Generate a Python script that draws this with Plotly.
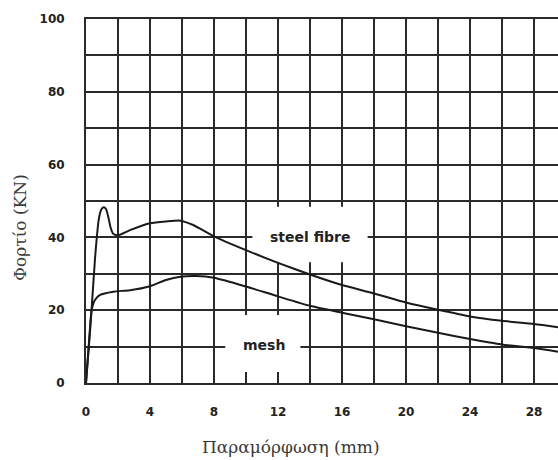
import plotly.graph_objects as go

# Data
steel_x = [0, 0.3, 0.56, 0.8, 0.95, 1.1, 1.25, 1.4, 1.55, 1.7, 2.0, 2.75, 4.0, 5.0, 5.9, 6.7,
           8.0, 10.0, 12.0, 14.0, 16.0, 18.0, 20.0, 22.0, 24.0, 26.0, 28.0, 29.5]
steel_y = [0, 17, 34, 45, 47.6, 48.3, 47.8, 45.5, 42.5, 41.0, 40.6, 42.0, 43.9, 44.4, 44.6, 43.4,
           40.3, 36.5, 33.0, 29.8, 26.9, 24.6, 22.1, 20.1, 18.3, 17.1, 16.2, 15.3]

mesh_x = [0, 0.2, 0.35, 0.56, 0.875, 1.7, 2.75, 4.0, 5.0, 5.9, 6.9, 8.0, 10.0, 12.0, 14.0,
          16.0, 18.0, 20.0, 22.0, 24.0, 26.0, 28.0, 29.5]
mesh_y = [0, 12, 20, 22.8, 24.2, 25.1, 25.5, 26.6, 28.3, 29.2, 29.4, 28.9, 26.5, 23.8, 21.2,
          19.3, 17.5, 15.6, 13.8, 12.1, 10.6, 9.6, 8.6]

x_ticks = [0, 4, 8, 12, 16, 20, 24, 28]
y_ticks = [0, 20, 40, 60, 80, 100]
series_labels = ["steel fibre", "mesh"]
x_title = "Παραμόρφωση (mm)"
y_title = "Φορτίο (KN)"

LINE = "#1a1a1a"
GRID = "#2a2a2a"

fig = go.Figure()
fig.add_trace(go.Scatter(x=steel_x, y=steel_y, mode="lines",
                         line=dict(color=LINE, width=2, shape="spline", smoothing=0.6),
                         showlegend=False, hoverinfo="skip"))
fig.add_trace(go.Scatter(x=mesh_x, y=mesh_y, mode="lines",
                         line=dict(color=LINE, width=2, shape="spline", smoothing=0.6),
                         showlegend=False, hoverinfo="skip"))

# white patches hiding the grid behind the labels (between grid and traces)
fig.add_shape(type="rect", x0=10.4, x1=17.6, y0=33.2, y1=48.4, xref="x", yref="y",
              fillcolor="white", line=dict(width=0), layer="between")
fig.add_shape(type="rect", x0=8.7, x1=13.4, y0=3.0, y1=18.7, xref="x", yref="y",
              fillcolor="white", line=dict(width=0), layer="between")

label_font = dict(family="DejaVu Sans, sans-serif", size=14, color="#222", weight="bold")
fig.add_annotation(x=14.0, y=40, xref="x", yref="y", text=series_labels[0], showarrow=False,
                   font=label_font)
fig.add_annotation(x=11.1, y=10.4, xref="x", yref="y", text=series_labels[1], showarrow=False,
                   font=label_font)

title_font = dict(family="DejaVu Serif, Liberation Serif, serif", size=17, color="#3a3a3a")
fig.add_annotation(x=0.434, y=-0.176, xref="paper", yref="paper", text=x_title,
                   showarrow=False, font=title_font, xanchor="center", yanchor="middle")
fig.add_annotation(x=-0.14, y=0.4286, xref="paper", yref="paper", text=y_title,
                   showarrow=False, font=title_font, textangle=-90,
                   xanchor="center", yanchor="middle")

tick_font = dict(family="DejaVu Sans, sans-serif", size=12, color="#222", weight="bold")

fig.update_xaxes(range=[0, 29.5], tickvals=x_ticks, ticktext=[str(v) for v in x_ticks],
                 showgrid=True, gridcolor=GRID, gridwidth=1.5,
                 minor=dict(dtick=2, tick0=0, showgrid=True, gridcolor=GRID, gridwidth=1.5),
                 showline=True, linecolor=GRID, linewidth=2, mirror=True,
                 zeroline=False, ticks="", tickfont=tick_font, ticklabelstandoff=17)
fig.update_yaxes(range=[0, 100], tickvals=y_ticks, ticktext=[str(v) for v in y_ticks],
                 showgrid=True, gridcolor=GRID, gridwidth=1.5,
                 minor=dict(dtick=10, tick0=0, showgrid=True, gridcolor=GRID, gridwidth=1.5),
                 showline=True, linecolor=GRID, linewidth=2,
                 zeroline=False, ticks="", tickfont=tick_font, ticklabelstandoff=17)

fig.update_layout(width=558, height=460, margin=dict(l=86, r=0, t=19, b=77),
                  plot_bgcolor="white", paper_bgcolor="white")

fig.write_html("out.html", config={"displayModeBar": False},
               post_script="document.body.style.margin='0';document.body.style.overflow='hidden';")
